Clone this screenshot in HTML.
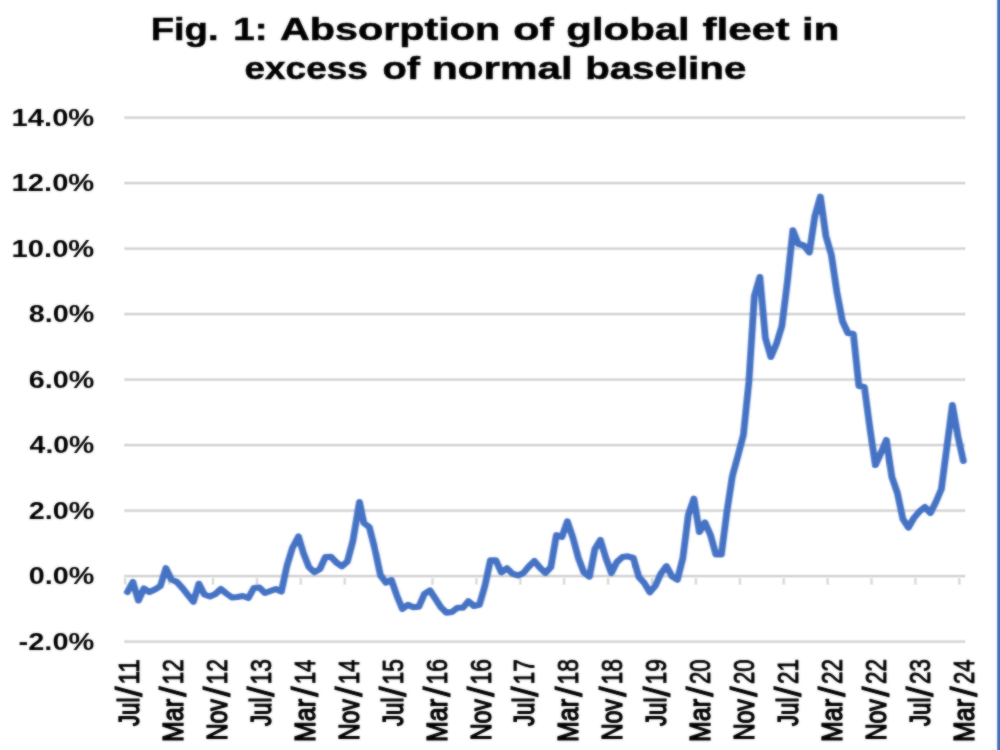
<!DOCTYPE html>
<html><head><meta charset="utf-8"><title>Fig. 1: Absorption of global fleet in excess of normal baseline</title>
<style>
html,body{margin:0;padding:0;background:#fff;}
body{width:1000px;height:750px;overflow:hidden;position:relative;}
svg{display:block;position:absolute;left:0;top:0;}
text{font-family:"Liberation Sans",sans-serif;fill:#060606;}
#title{font-weight:bold;}
#ylabels{font-weight:bold;}
#xlabels{font-weight:normal;}
</style></head><body>
<svg width="1000" height="750" viewBox="0 0 1000 750">
<rect x="0" y="0" width="1000" height="750" fill="#ffffff"/>
<defs><filter id="soft" x="-20" y="-20" width="1040" height="790" filterUnits="userSpaceOnUse"><feGaussianBlur in="SourceGraphic" stdDeviation="0.9" result="b"/><feComposite in="SourceGraphic" in2="b" operator="arithmetic" k1="0" k2="0.45" k3="0.55" k4="0"/></filter></defs>

<g id="grid">
<rect x="123.20" y="576" width="4" height="9" fill="#f3f3f3"/><rect x="124.20" y="576" width="2" height="8.3" fill="#dfdfdf"/>
<rect x="167.10" y="576" width="4" height="9" fill="#f3f3f3"/><rect x="168.10" y="576" width="2" height="8.3" fill="#dfdfdf"/>
<rect x="211.00" y="576" width="4" height="9" fill="#f3f3f3"/><rect x="212.00" y="576" width="2" height="8.3" fill="#dfdfdf"/>
<rect x="254.90" y="576" width="4" height="9" fill="#f3f3f3"/><rect x="255.90" y="576" width="2" height="8.3" fill="#dfdfdf"/>
<rect x="298.80" y="576" width="4" height="9" fill="#f3f3f3"/><rect x="299.80" y="576" width="2" height="8.3" fill="#dfdfdf"/>
<rect x="342.70" y="576" width="4" height="9" fill="#f3f3f3"/><rect x="343.70" y="576" width="2" height="8.3" fill="#dfdfdf"/>
<rect x="386.60" y="576" width="4" height="9" fill="#f3f3f3"/><rect x="387.60" y="576" width="2" height="8.3" fill="#dfdfdf"/>
<rect x="430.50" y="576" width="4" height="9" fill="#f3f3f3"/><rect x="431.50" y="576" width="2" height="8.3" fill="#dfdfdf"/>
<rect x="474.40" y="576" width="4" height="9" fill="#f3f3f3"/><rect x="475.40" y="576" width="2" height="8.3" fill="#dfdfdf"/>
<rect x="518.30" y="576" width="4" height="9" fill="#f3f3f3"/><rect x="519.30" y="576" width="2" height="8.3" fill="#dfdfdf"/>
<rect x="562.20" y="576" width="4" height="9" fill="#f3f3f3"/><rect x="563.20" y="576" width="2" height="8.3" fill="#dfdfdf"/>
<rect x="606.10" y="576" width="4" height="9" fill="#f3f3f3"/><rect x="607.10" y="576" width="2" height="8.3" fill="#dfdfdf"/>
<rect x="650.00" y="576" width="4" height="9" fill="#f3f3f3"/><rect x="651.00" y="576" width="2" height="8.3" fill="#dfdfdf"/>
<rect x="693.90" y="576" width="4" height="9" fill="#f3f3f3"/><rect x="694.90" y="576" width="2" height="8.3" fill="#dfdfdf"/>
<rect x="737.80" y="576" width="4" height="9" fill="#f3f3f3"/><rect x="738.80" y="576" width="2" height="8.3" fill="#dfdfdf"/>
<rect x="781.70" y="576" width="4" height="9" fill="#f3f3f3"/><rect x="782.70" y="576" width="2" height="8.3" fill="#dfdfdf"/>
<rect x="825.60" y="576" width="4" height="9" fill="#f3f3f3"/><rect x="826.60" y="576" width="2" height="8.3" fill="#dfdfdf"/>
<rect x="869.50" y="576" width="4" height="9" fill="#f3f3f3"/><rect x="870.50" y="576" width="2" height="8.3" fill="#dfdfdf"/>
<rect x="913.40" y="576" width="4" height="9" fill="#f3f3f3"/><rect x="914.40" y="576" width="2" height="8.3" fill="#dfdfdf"/>
<rect x="957.30" y="576" width="4" height="9" fill="#f3f3f3"/><rect x="958.30" y="576" width="2" height="8.3" fill="#dfdfdf"/>
<rect x="124" y="115.60" width="841.6" height="4" fill="#f0f0f0"/><rect x="124.6" y="116.60" width="840.4" height="2" fill="#d9d9d9"/>
<rect x="124" y="181.10" width="841.6" height="4" fill="#f0f0f0"/><rect x="124.6" y="182.10" width="840.4" height="2" fill="#d9d9d9"/>
<rect x="124" y="246.60" width="841.6" height="4" fill="#f0f0f0"/><rect x="124.6" y="247.60" width="840.4" height="2" fill="#d9d9d9"/>
<rect x="124" y="312.10" width="841.6" height="4" fill="#f0f0f0"/><rect x="124.6" y="313.10" width="840.4" height="2" fill="#d9d9d9"/>
<rect x="124" y="377.60" width="841.6" height="4" fill="#f0f0f0"/><rect x="124.6" y="378.60" width="840.4" height="2" fill="#d9d9d9"/>
<rect x="124" y="443.10" width="841.6" height="4" fill="#f0f0f0"/><rect x="124.6" y="444.10" width="840.4" height="2" fill="#d9d9d9"/>
<rect x="124" y="508.60" width="841.6" height="4" fill="#f0f0f0"/><rect x="124.6" y="509.60" width="840.4" height="2" fill="#d9d9d9"/>
<rect x="124" y="574.10" width="841.6" height="4" fill="#f0f0f0"/><rect x="124.6" y="575.10" width="840.4" height="2" fill="#d9d9d9"/>
<rect x="124" y="639.60" width="841.6" height="4" fill="#f0f0f0"/><rect x="124.6" y="640.60" width="840.4" height="2" fill="#d9d9d9"/>
</g>
<g filter="url(#soft)">
<rect x="997.2" y="-20" width="30" height="790" fill="#3f6cba"/>
<polyline transform="scale(1.12,1)" points="113.71,592.0 118.62,582.0 123.53,600.5 128.44,588.5 133.35,592.0 138.26,589.5 143.17,586.0 148.08,568.2 152.99,579.5 157.90,582.0 162.81,588.0 167.72,595.0 172.63,601.8 177.54,583.8 182.46,594.5 187.37,596.5 192.28,594.0 197.19,589.0 202.10,593.5 207.01,597.5 211.92,597.0 216.83,596.0 221.74,598.0 226.65,588.0 231.56,587.5 236.47,593.0 241.38,591.0 246.29,589.0 251.21,591.5 256.12,566.0 261.03,548.0 266.47,536.5 270.85,553.0 275.76,567.0 280.67,572.3 285.58,569.0 290.49,557.0 295.40,556.7 300.31,562.5 305.22,566.3 310.13,561.5 315.04,541.0 320.94,502.0 324.87,523.0 329.78,527.3 334.69,549.0 339.60,575.0 344.51,582.7 349.42,580.0 354.33,595.7 359.24,609.0 364.15,604.8 369.06,607.2 373.97,606.6 378.88,594.0 383.79,590.4 388.71,598.8 393.62,607.2 398.53,612.6 403.44,612.0 408.35,607.8 413.26,607.8 418.17,601.2 423.08,606.0 427.99,604.8 432.90,586.0 437.81,560.4 442.72,560.4 447.63,572.4 452.54,568.2 457.46,573.6 462.37,575.4 467.28,573.0 472.19,566.4 477.10,561.0 482.01,567.6 486.92,573.0 491.83,567.0 496.74,535.2 501.65,537.0 506.56,521.4 511.47,537.6 516.38,558.0 521.29,572.4 526.21,576.6 531.12,549.0 536.03,540.0 540.94,558.0 545.85,573.0 550.76,562.0 555.67,557.1 560.58,556.3 565.49,558.0 570.40,577.0 575.31,583.1 580.22,592.3 585.13,585.7 590.04,573.6 594.96,566.1 599.87,576.2 604.78,579.7 609.69,558.0 614.60,514.7 619.51,498.7 624.42,532.0 629.33,522.5 634.24,534.6 639.15,554.5 644.06,554.5 648.97,512.0 653.88,476.0 658.79,456.0 663.71,435.0 668.62,382.0 673.53,296.0 678.44,277.0 683.35,338.0 688.26,357.0 693.17,344.0 698.08,326.0 702.99,282.0 707.90,230.4 712.81,244.0 717.72,245.5 722.63,252.4 727.54,216.0 732.46,196.6 737.37,236.0 742.28,255.0 747.19,292.0 752.10,321.0 757.01,333.0 761.92,334.0 766.83,386.0 771.74,387.0 776.65,428.0 781.56,465.0 786.47,453.0 791.38,440.0 796.29,477.0 801.21,493.0 806.12,519.0 811.03,527.6 815.94,518.0 820.85,511.5 825.76,507.0 830.67,513.0 835.58,502.0 840.49,489.0 845.40,447.0 850.31,405.0 855.22,436.0 860.13,461.0" fill="none" stroke="#4472c4" stroke-width="6.1" stroke-linejoin="round" stroke-linecap="round"/>
<g id="title" stroke="#060606" stroke-width="0.5">
<text transform="matrix(1.2534 0 0 1.0500 150.66 40.30)" font-size="30.5">Fig.</text>
<text transform="matrix(1.2654 0 0 1.0500 233.24 40.30)" font-size="30.5">1:</text>
<text transform="matrix(1.3548 0 0 1.0500 280.00 40.30)" font-size="30.5">Absorption</text>
<text transform="matrix(1.4097 0 0 1.0500 513.31 40.30)" font-size="30.5">of</text>
<text transform="matrix(1.3751 0 0 1.0500 566.34 40.30)" font-size="30.5">global</text>
<text transform="matrix(1.3900 0 0 1.0500 702.39 40.30)" font-size="30.5">fleet</text>
<text transform="matrix(1.3784 0 0 1.0500 802.02 40.30)" font-size="30.5">in</text>
<text transform="matrix(1.2120 0 0 1.0500 244.49 78.50)" font-size="30.5">excess</text>
<text transform="matrix(1.3032 0 0 1.0500 382.41 78.50)" font-size="30.5">of</text>
<text transform="matrix(1.3850 0 0 1.0500 432.01 78.50)" font-size="30.5">normal</text>
<text transform="matrix(1.3208 0 0 1.0500 585.13 78.50)" font-size="30.5">baseline</text>
</g>
<g id="ylabels">
<text transform="matrix(1.2158 0 0 0.9778 11.58 125.50)" font-size="24">14.0%</text>
<text transform="matrix(1.2158 0 0 0.9778 11.58 191.00)" font-size="24">12.0%</text>
<text transform="matrix(1.2158 0 0 0.9778 11.58 256.50)" font-size="24">10.0%</text>
<text transform="matrix(1.1993 0 0 0.9778 28.70 322.00)" font-size="24">8.0%</text>
<text transform="matrix(1.1993 0 0 0.9778 28.70 387.50)" font-size="24">6.0%</text>
<text transform="matrix(1.1828 0 0 0.9778 29.60 453.00)" font-size="24">4.0%</text>
<text transform="matrix(1.1993 0 0 0.9778 28.70 518.50)" font-size="24">2.0%</text>
<text transform="matrix(1.1993 0 0 0.9778 28.70 584.00)" font-size="24">0.0%</text>
<text transform="matrix(1.2077 0 0 0.9778 18.59 649.50)" font-size="24">-2.0%</text>
</g>
<g id="xlabels" stroke="#060606" stroke-width="0.95" stroke-linejoin="round">
<text transform="matrix(0 -0.7938 1.0768 0 138.90 726.00)" font-size="28" stroke-width="1.3">Jul</text><text transform="matrix(0 -1.3206 1.2952 0 142.13 696.80)" font-size="28" stroke-width="0.8">/</text><text transform="matrix(0 -0.8766 1.0768 0 138.90 684.51)" font-size="28" stroke-width="0.85">11</text>
<text transform="matrix(0 -0.8911 1.0768 0 182.85 741.90)" font-size="28" stroke-width="1.3">Mar</text><text transform="matrix(0 -1.3206 1.2952 0 186.08 696.80)" font-size="28" stroke-width="0.8">/</text><text transform="matrix(0 -0.8121 1.0768 0 182.85 684.40)" font-size="28" stroke-width="0.85">12</text>
<text transform="matrix(0 -0.8297 1.0768 0 226.80 740.37)" font-size="28" stroke-width="1.3">Nov</text><text transform="matrix(0 -1.3206 1.2952 0 230.03 696.80)" font-size="28" stroke-width="0.8">/</text><text transform="matrix(0 -0.8121 1.0768 0 226.80 684.40)" font-size="28" stroke-width="0.85">12</text>
<text transform="matrix(0 -0.7938 1.0768 0 270.75 726.00)" font-size="28" stroke-width="1.3">Jul</text><text transform="matrix(0 -1.3206 1.2952 0 273.98 696.80)" font-size="28" stroke-width="0.8">/</text><text transform="matrix(0 -0.8121 1.0768 0 270.75 684.40)" font-size="28" stroke-width="0.85">13</text>
<text transform="matrix(0 -0.8911 1.0768 0 314.70 741.90)" font-size="28" stroke-width="1.3">Mar</text><text transform="matrix(0 -1.3206 1.2952 0 317.93 696.80)" font-size="28" stroke-width="0.8">/</text><text transform="matrix(0 -0.7997 1.0768 0 314.70 684.37)" font-size="28" stroke-width="0.85">14</text>
<text transform="matrix(0 -0.8297 1.0768 0 358.65 740.37)" font-size="28" stroke-width="1.3">Nov</text><text transform="matrix(0 -1.3206 1.2952 0 361.88 696.80)" font-size="28" stroke-width="0.8">/</text><text transform="matrix(0 -0.7997 1.0768 0 358.65 684.37)" font-size="28" stroke-width="0.85">14</text>
<text transform="matrix(0 -0.7938 1.0768 0 402.60 726.00)" font-size="28" stroke-width="1.3">Jul</text><text transform="matrix(0 -1.3206 1.2952 0 405.83 696.80)" font-size="28" stroke-width="0.8">/</text><text transform="matrix(0 -0.8121 1.0768 0 402.60 684.40)" font-size="28" stroke-width="0.85">15</text>
<text transform="matrix(0 -0.8911 1.0768 0 446.55 741.90)" font-size="28" stroke-width="1.3">Mar</text><text transform="matrix(0 -1.3206 1.2952 0 449.78 696.80)" font-size="28" stroke-width="0.8">/</text><text transform="matrix(0 -0.8121 1.0768 0 446.55 684.40)" font-size="28" stroke-width="0.85">16</text>
<text transform="matrix(0 -0.8297 1.0768 0 490.50 740.37)" font-size="28" stroke-width="1.3">Nov</text><text transform="matrix(0 -1.3206 1.2952 0 493.73 696.80)" font-size="28" stroke-width="0.8">/</text><text transform="matrix(0 -0.8121 1.0768 0 490.50 684.40)" font-size="28" stroke-width="0.85">16</text>
<text transform="matrix(0 -0.7938 1.0768 0 534.45 726.00)" font-size="28" stroke-width="1.3">Jul</text><text transform="matrix(0 -1.3206 1.2952 0 537.68 696.80)" font-size="28" stroke-width="0.8">/</text><text transform="matrix(0 -0.8121 1.0768 0 534.45 684.40)" font-size="28" stroke-width="0.85">17</text>
<text transform="matrix(0 -0.8911 1.0768 0 578.40 741.90)" font-size="28" stroke-width="1.3">Mar</text><text transform="matrix(0 -1.3206 1.2952 0 581.63 696.80)" font-size="28" stroke-width="0.8">/</text><text transform="matrix(0 -0.8121 1.0768 0 578.40 684.40)" font-size="28" stroke-width="0.85">18</text>
<text transform="matrix(0 -0.8297 1.0768 0 622.35 740.37)" font-size="28" stroke-width="1.3">Nov</text><text transform="matrix(0 -1.3206 1.2952 0 625.58 696.80)" font-size="28" stroke-width="0.8">/</text><text transform="matrix(0 -0.8121 1.0768 0 622.35 684.40)" font-size="28" stroke-width="0.85">18</text>
<text transform="matrix(0 -0.7938 1.0768 0 666.30 726.00)" font-size="28" stroke-width="1.3">Jul</text><text transform="matrix(0 -1.3206 1.2952 0 669.53 696.80)" font-size="28" stroke-width="0.8">/</text><text transform="matrix(0 -0.8121 1.0768 0 666.30 684.40)" font-size="28" stroke-width="0.85">19</text>
<text transform="matrix(0 -0.8911 1.0768 0 710.25 741.90)" font-size="28" stroke-width="1.3">Mar</text><text transform="matrix(0 -1.3206 1.2952 0 713.48 696.80)" font-size="28" stroke-width="0.8">/</text><text transform="matrix(0 -0.7877 1.0768 0 710.25 684.01)" font-size="28" stroke-width="0.85">20</text>
<text transform="matrix(0 -0.8297 1.0768 0 754.20 740.37)" font-size="28" stroke-width="1.3">Nov</text><text transform="matrix(0 -1.3206 1.2952 0 757.43 696.80)" font-size="28" stroke-width="0.8">/</text><text transform="matrix(0 -0.7877 1.0768 0 754.20 684.01)" font-size="28" stroke-width="0.85">20</text>
<text transform="matrix(0 -0.7938 1.0768 0 798.15 726.00)" font-size="28" stroke-width="1.3">Jul</text><text transform="matrix(0 -1.3206 1.2952 0 801.38 696.80)" font-size="28" stroke-width="0.8">/</text><text transform="matrix(0 -0.7997 1.0768 0 798.15 684.02)" font-size="28" stroke-width="0.85">21</text>
<text transform="matrix(0 -0.8911 1.0768 0 842.10 741.90)" font-size="28" stroke-width="1.3">Mar</text><text transform="matrix(0 -1.3206 1.2952 0 845.33 696.80)" font-size="28" stroke-width="0.8">/</text><text transform="matrix(0 -0.7997 1.0768 0 842.10 684.02)" font-size="28" stroke-width="0.85">22</text>
<text transform="matrix(0 -0.8297 1.0768 0 886.05 740.37)" font-size="28" stroke-width="1.3">Nov</text><text transform="matrix(0 -1.3206 1.2952 0 889.28 696.80)" font-size="28" stroke-width="0.8">/</text><text transform="matrix(0 -0.7997 1.0768 0 886.05 684.02)" font-size="28" stroke-width="0.85">22</text>
<text transform="matrix(0 -0.7938 1.0768 0 930.00 726.00)" font-size="28" stroke-width="1.3">Jul</text><text transform="matrix(0 -1.3206 1.2952 0 933.23 696.80)" font-size="28" stroke-width="0.8">/</text><text transform="matrix(0 -0.7997 1.0768 0 930.00 684.02)" font-size="28" stroke-width="0.85">23</text>
<text transform="matrix(0 -0.8911 1.0768 0 973.95 741.90)" font-size="28" stroke-width="1.3">Mar</text><text transform="matrix(0 -1.3206 1.2952 0 977.18 696.80)" font-size="28" stroke-width="0.8">/</text><text transform="matrix(0 -0.7877 1.0768 0 973.95 684.01)" font-size="28" stroke-width="0.85">24</text>
</g>
</g></svg></body></html>
